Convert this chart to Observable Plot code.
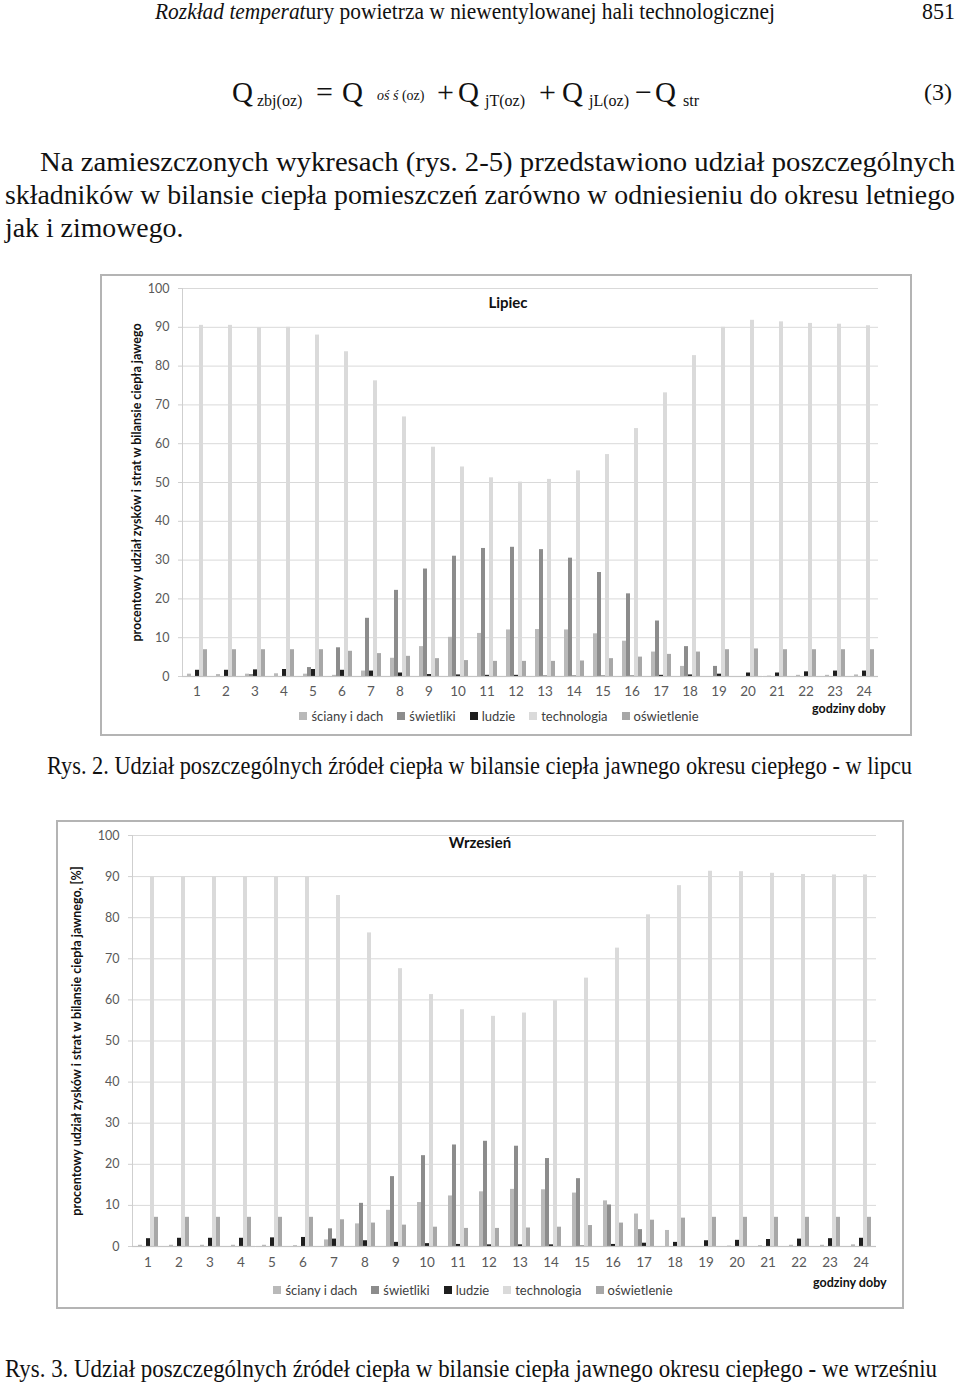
<!DOCTYPE html>
<html><head><meta charset="utf-8">
<script src="https://cdn.jsdelivr.net/npm/d3@7"></script>
<script src="https://cdn.jsdelivr.net/npm/@observablehq/plot@0.6"></script>
<style>
html,body{margin:0;padding:0;background:#fff}
body{width:960px;height:1385px;position:relative;overflow:hidden;font-family:"Liberation Serif","Times New Roman",serif;color:#111}
.t{position:absolute;white-space:nowrap;line-height:1;transform-origin:0 50%}
.box{position:absolute;outline:2px solid #b4b4b4;outline-offset:-1px;background:#fff}
.box > svg{position:absolute;left:0;top:0;overflow:visible}
.ctitle{position:absolute;font-family:Lato,sans-serif;font-weight:bold;font-size:15px;color:#111;transform:translate(-50%,-50%);white-space:nowrap}
.gd{position:absolute;font-family:Lato,sans-serif;font-weight:bold;font-size:12.5px;color:#111;white-space:nowrap;transform:translateY(-50%)}
.legwrap{position:absolute;left:0;width:100%;display:flex;justify-content:center;transform:translateY(-50%)}
.legwrap > div{display:flex;align-items:center;min-height:0 !important;margin:0 !important;justify-content:center}
.legwrap span{margin-right:14px !important;font-family:Lato,sans-serif;font-size:13px;color:#404040;display:inline-flex;align-items:center}
.legwrap span svg{margin-right:4px !important}
g[aria-label="fx-axis tick label"]{font-size:13.5px}
</style></head><body>

<div class="t" id="hdr" style="left:155px;top:11px;font-size:23px"><i>Rozkład temperat</i>ury powietrza w niewentylowanej hali technologicznej</div>
<div class="t fit" data-w="33" style="left:922px;top:11px;font-size:23px">851</div>

<div class="t" style="left:232px;top:92px;font-size:29px">Q</div>
<div class="t" style="left:257px;top:101px;font-size:16px">zbj(oz)</div>
<div class="t" style="left:316px;top:92px;font-size:30px">=</div>
<div class="t" style="left:342px;top:92px;font-size:29px">Q</div>
<div class="t" style="left:377px;top:96px;font-size:14px"><i>oś ś</i> (oz)</div>
<div class="t" style="left:437px;top:92px;font-size:30px">+</div>
<div class="t" style="left:458px;top:92px;font-size:29px">Q</div>
<div class="t" style="left:485px;top:101px;font-size:16px">jT(oz)</div>
<div class="t" style="left:539px;top:92px;font-size:30px">+</div>
<div class="t" style="left:562px;top:92px;font-size:29px">Q</div>
<div class="t" style="left:589px;top:101px;font-size:16px">jL(oz)</div>
<div class="t" style="left:635px;top:92px;font-size:30px">−</div>
<div class="t" style="left:655px;top:92px;font-size:29px">Q</div>
<div class="t" style="left:683px;top:101px;font-size:16px">str</div>
<div class="t" style="left:924px;top:92px;font-size:24px">(3)</div>

<div class="t fit" data-w="915" style="left:40px;top:162px;font-size:28px">Na zamieszczonych wykresach (rys. 2-5) przedstawiono udział poszczególnych</div>
<div class="t fit" data-w="950" id="l2" style="left:5px;top:195px;font-size:28px">składników w bilansie ciepła pomieszczeń zarówno w odniesieniu do okresu letniego</div>
<div class="t" id="l3" style="left:5px;top:228px;font-size:28px">jak i zimowego.</div>

<div class="box" id="box1" style="left:101px;top:275px;width:810px;height:460px"></div>
<div class="t fit" data-w="865" style="left:47px;top:765px;font-size:25px">Rys. 2. Udział poszczególnych źródeł ciepła w bilansie ciepła jawnego okresu ciepłego - w lipcu</div>

<div class="box" id="box2" style="left:57px;top:821px;width:846px;height:487px"></div>
<div class="t fit" data-w="932" style="left:5px;top:1368px;font-size:25px">Rys. 3. Udział poszczególnych źródeł ciepła w bilansie ciepła jawnego okresu ciepłego - we wrześniu</div>

<script>
// ---- data ----
const hours = [1,2,3,4,5,6,7,8,9,10,11,12,13,14,15,16,17,18,19,20,21,22,23,24];
const seriesNames = ["ściany i dach","świetliki","ludzie","technologia","oświetlenie"];
const seriesColors = ["#b9b9b9","#8c8c8c","#1e1e1e","#dadada","#a7a7a7"];
const yTicks = [0,10,20,30,40,50,60,70,80,90,100];

// Lipiec (July)
const scianyLipiec      = [0.6,0.5,0.6,0.7,0.6,0.3,1.4,4.7,7.7,10.1,11.1,12.0,12.1,12.0,11.0,9.1,6.3,2.6,0,0,0.1,0.3,0.3,0.4];
const swietlikiLipiec   = [0,0,0.5,0,2.3,7.4,15.0,22.2,27.7,31.0,33.0,33.3,32.7,30.5,26.8,21.3,14.3,7.7,2.6,0,0,0,0,0];
const ludzieLipiec      = [1.6,1.6,1.7,1.8,1.8,1.6,1.4,0.9,0.5,0.4,0.3,0.3,0.1,0.1,0.1,0.1,0.3,0.4,0.6,0.9,0.9,1.2,1.4,1.4];
const technologiaLipiec = [90.5,90.5,89.9,90.0,88.0,83.7,76.2,66.9,59.1,54.0,51.2,50.1,50.8,53.0,57.2,63.9,73.1,82.7,90.0,91.8,91.4,91.0,90.8,90.4];
const oswietlenieLipiec = [6.9,6.9,6.9,6.9,6.9,6.5,5.9,5.2,4.6,4.1,3.9,3.9,3.9,4.0,4.6,5.0,5.7,6.3,6.9,7.1,6.9,6.9,6.9,6.9];

// Wrzesień (September)
const scianyWrzesien      = [0.3,0.3,0.3,0.3,0.3,0.2,1.6,5.5,8.8,10.7,12.3,13.3,13.9,13.8,13.0,11.1,7.9,3.9,0,0.1,0.2,0.3,0.3,0.4];
const swietlikiWrzesien   = [0,0,0,0,0,0,4.3,10.5,17.0,22.1,24.7,25.6,24.4,21.4,16.5,10.1,4.1,0,0,0,0,0,0,0];
const ludzieWrzesien      = [1.9,2.0,2.0,2.0,2.1,2.2,1.8,1.4,1.0,0.7,0.5,0.4,0.4,0.4,0.1,0.5,0.8,1.0,1.4,1.5,1.7,1.8,1.9,2.0];
const technologiaWrzesien = [90.0,90.0,90.0,90.0,90.0,90.0,85.4,76.3,67.6,61.3,57.6,56.0,56.8,59.8,65.3,72.6,80.7,87.8,91.3,91.2,90.8,90.5,90.4,90.4];
const oswietlenieWrzesien = [7.1,7.1,7.1,7.1,7.1,7.1,6.5,5.7,5.2,4.7,4.4,4.4,4.5,4.7,5.1,5.7,6.4,6.9,7.1,7.1,7.1,7.1,7.1,7.1];

function toTable(arrays) {
  const rows = [];
  arrays.forEach((arr, s) => arr.forEach((v, i) => rows.push({hour: hours[i], series: seriesNames[s], value: v})));
  return rows;
}
const dataLipiec = toTable([scianyLipiec, swietlikiLipiec, ludzieLipiec, technologiaLipiec, oswietlenieLipiec]);
const dataWrzesien = toTable([scianyWrzesien, swietlikiWrzesien, ludzieWrzesien, technologiaWrzesien, oswietlenieWrzesien]);

function makeChart(data, o) {
  const svg = Plot.plot({
    width: o.width, height: o.height,
    marginLeft: o.ml, marginRight: o.mr, marginTop: o.mt, marginBottom: o.mb,
    style: {fontFamily: "Lato, sans-serif", fontSize: "12.5px", color: "#595959", background: "transparent", overflow: "visible"},
    fx: {domain: hours, padding: 0, label: null, tickSize: 0, tickPadding: o.fxPad, axis: "bottom"},
    x: {domain: seriesNames, paddingInner: 0, paddingOuter: 0.85, axis: null},
    y: {domain: [0, 100]},
    color: {domain: seriesNames, range: seriesColors},
    marks: [
      Plot.ruleY(yTicks.slice(1), {stroke: "#d9d9d9", strokeWidth: 1}),
      Plot.frame({anchor: "left", stroke: "#cfcfcf", fx: hours[0]}),
      Plot.axisY({ticks: yTicks, tickSize: 4, tickPadding: 9, stroke: "#cfcfcf", fill: "#595959", label: null}),
      Plot.axisY({ticks: [], tickSize: 0, label: o.ylabel, labelAnchor: "center", labelArrow: "none", labelOffset: o.lo,
                  fontWeight: "bold", fontSize: 12, fill: "#111"}),
      Plot.barY(data, {fx: "hour", x: "series", y: "value", fill: "series"}),
      Plot.ruleY([0], {stroke: "#c4c4c4", strokeWidth: 1.2})
    ]
  });
  // make the axis title bold like the original
  svg.querySelectorAll("text").forEach(t => {
    if (t.textContent === o.ylabel) {
      t.setAttribute("font-weight", "bold");
      t.style.fontWeight = "700";
      t.style.fontSize = "12.5px";
      t.style.fill = "#111";
    }
  });
  return svg;
}

function addLegend(box, top) {
  const w = document.createElement("div");
  w.className = "legwrap";
  w.style.top = top + "px";
  w.appendChild(Plot.legend({color: {domain: seriesNames, range: seriesColors}, swatchSize: 8, className: "leg"}));
  box.appendChild(w);
}
function addText(box, cls, txt, left, top) {
  const d = document.createElement("div");
  d.className = cls; d.textContent = txt;
  d.style.left = left + "px"; d.style.top = top + "px";
  box.appendChild(d);
}

const box1 = document.getElementById("box1");
box1.appendChild(makeChart(dataLipiec, {width: 810, height: 460, ml: 80, mr: 32, mt: 13, mb: 59, fxPad: 10, lo: 50,
  ylabel: "procentowy udział zysków i strat w bilansie ciepła jawego"}));
addText(box1, "ctitle", "Lipiec", 407, 27);
addText(box1, "gd", "godziny doby", 711, 433);
addLegend(box1, 441);

const box2 = document.getElementById("box2");
box2.appendChild(makeChart(dataWrzesien, {width: 846, height: 487, ml: 74, mr: 26, mt: 14, mb: 62, fxPad: 11, lo: 60,
  ylabel: "procentowy udział zysków i strat w bilansie ciepła jawnego, [%]"}));
addText(box2, "ctitle", "Wrzesień", 423, 21);
addText(box2, "gd", "godziny doby", 756, 461);
addLegend(box2, 469);

// text fitting (scan is horizontally condensed)
document.querySelectorAll(".t").forEach(el => { el.style.transform = "translateY(-50%)"; });
document.querySelectorAll(".fit").forEach(el => {
  const k = (+el.dataset.w) / el.getBoundingClientRect().width;
  el.dataset.k = k;
  el.style.transform = `translateY(-50%) scaleX(${k})`;
});
const k2 = document.getElementById("l2").dataset.k;
document.getElementById("l3").style.transform = `translateY(-50%) scaleX(${k2})`;
const hdr = document.getElementById("hdr");
hdr.style.transform = `translateY(-50%) scaleX(${620 / hdr.getBoundingClientRect().width})`;
</script>
</body></html>
